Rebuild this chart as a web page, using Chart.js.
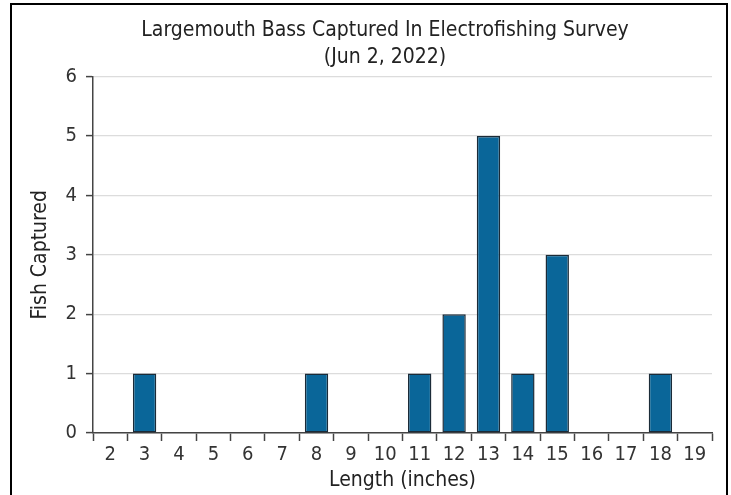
<!DOCTYPE html>
<html>
<head>
<meta charset="utf-8">
<script src="https://cdn.jsdelivr.net/npm/chart.js@4"></script>
<style>
  html, body { margin: 0; padding: 0; background: #fff; }
  #wrap { position: relative; width: 731px; height: 495px; overflow: hidden; }
  #frame { position: absolute; left: 10px; top: 3px; width: 718px; height: 520px; border: 2px solid #000; box-sizing: border-box; pointer-events: none; }
  canvas { position: absolute; left: 0; top: 0; }
</style>
</head>
<body>
<div id="wrap">
  <canvas id="c" width="731" height="495"></canvas>
  <div id="frame"></div>
</div>
<script>
const titleLines = ['Largemouth Bass Captured In Electrofishing Survey', '(Jun 2, 2022)'];
const lengths = ['2','3','4','5','6','7','8','9','10','11','12','13','14','15','16','17','18','19'];
const fishCaptured = [0, 1, 0, 0, 0, 0, 1, 0, 0, 1, 2, 5, 1, 3, 0, 0, 1, 0];
const yTicks = [0, 1, 2, 3, 4, 5, 6];
const xTitle = 'Length (inches)';
const yTitle = 'Fish Captured';

const FONT = "'DejaVu Sans Condensed', 'DejaVu Sans', sans-serif";

new Chart(document.getElementById('c'), {
  type: 'bar',
  data: {
    labels: lengths,
    datasets: [{
      data: fishCaptured.map(v => v === 0 ? null : v),
      backgroundColor: '#0a6699',
      borderColor: '#1b2b38',
      borderWidth: 1.5,
      borderSkipped: false,
      categoryPercentage: 1.0,
      barPercentage: 0.68
    }]
  },
  options: {
    responsive: false,
    animation: false,
    layout: { padding: { left: 58, right: 19, top: 0, bottom: 0 } },
    plugins: {
      legend: { display: false },
      tooltip: { enabled: false },
      title: {
        display: true,
        text: titleLines,
        color: '#222',
        font: { family: FONT, size: 21, weight: 'normal', lineHeight: 1.3 },
        padding: { top: 17, bottom: 5 }
      }
    },
    scales: {
      x: {
        offset: true,
        grid: { offset: true, drawOnChartArea: false, drawTicks: true, tickLength: 8, tickColor: '#444', tickWidth: 1.5 },
        border: { color: '#444', width: 1.5 },
        ticks: { color: '#333', font: { family: FONT, size: 20 }, padding: 2, maxRotation: 0, autoSkip: false },
        title: { display: true, text: xTitle, color: '#222', font: { family: FONT, size: 21 }, padding: { top: 0, bottom: 2 } },
        afterFit: s => { s.height = 62; }
      },
      y: {
        min: 0, max: 6,
        afterBuildTicks: s => { s.ticks = yTicks.map(v => ({ value: v })); },
        grid: { color: '#dcdcdc', lineWidth: 1.2, drawTicks: true, tickLength: 7, tickColor: '#444', tickWidth: 1.5 },
        border: { color: '#444', width: 1.5 },
        ticks: { color: '#333', font: { family: FONT, size: 20 }, padding: 9 },
        title: { display: true, text: yTitle, color: '#222', font: { family: FONT, size: 21 }, padding: { top: -30, bottom: 0 } },
        afterFit: s => { s.width = 35; }
      }
    }
  }
});
</script>
</body>
</html>
